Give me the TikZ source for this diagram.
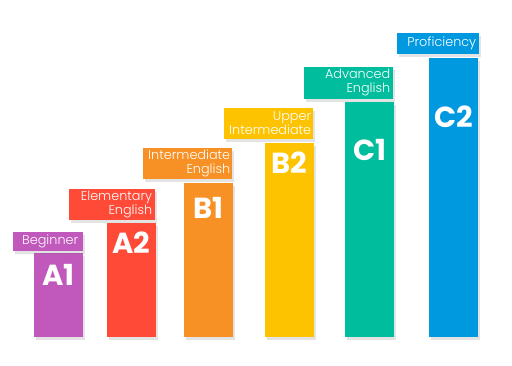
\documentclass[tikz,border=0pt]{standalone}
\usepackage{fontspec}
\setmainfont{Poppins}
\newfontfamily\lightf{Poppins Light}
\newfontfamily\boldf{Poppins Bold}
\usetikzlibrary{shadows}
\definecolor{cA1}{HTML}{C158BC}
\definecolor{cA2}{HTML}{FF4A38}
\definecolor{cB1}{HTML}{F79125}
\definecolor{cB2}{HTML}{FDC300}
\definecolor{cC1}{HTML}{00BD9D}
\definecolor{cC2}{HTML}{0099E0}
\tikzset{
  bar/.style={draw=none, inner sep=0pt, anchor=south west, minimum width=49pt,
    drop shadow={shadow xshift=2pt, shadow yshift=-3pt, opacity=0.18, fill=black!60}},
  lbox/.style={draw=none, inner sep=0pt, anchor=south west,
    drop shadow={shadow xshift=2pt, shadow yshift=-3pt, opacity=0.18, fill=black!60}},
  ltext/.style={text=white, align=right, anchor=east, inner sep=0pt,
    font=\lightf\fontsize{12.8}{14}\selectfont},
  big/.style={text=white, inner sep=0pt, font=\boldf\fontsize{29}{29}\selectfont}
}
\begin{document}
\begin{tikzpicture}[x=1pt,y=1pt]
\useasboundingbox (0,0) rectangle (512,366);
% bars (y = 366 - pixel y), bottom at 337 -> 29
\node[bar, fill=cA1, minimum height=84pt] (a1) at (34,29) {};
\node[bar, fill=cA2, minimum height=114pt] (a2) at (107,29) {};
\node[bar, fill=cB1, minimum height=154pt] (b1) at (184,29) {};
\node[bar, fill=cB2, minimum height=194pt] (b2) at (265,29) {};
\node[bar, fill=cC1, minimum height=235pt] (c1) at (345,29) {};
\node[bar, fill=cC2, minimum height=279pt] (c2) at (429,29) {};
% big letters
\node[big] (ta1) at (58.5,91) {A1};
\node[big] (ta2) at (131.5,123) {A2};
\node[big] (tb1) at (208.5,158) {B1};
\node[big] (tb2) at (289.5,203) {B2};
\node[big] (tc1) at (369.5,216) {C1};
\node[big] (tc2) at (453.5,249) {C2};
% label boxes
\node[lbox, fill=cA1, minimum width=70pt, minimum height=19pt] (la1) at (13,115) {};
\node[lbox, fill=cA2, minimum width=86pt, minimum height=31pt] (la2) at (69,146) {};
\node[lbox, fill=cB1, minimum width=89pt, minimum height=31pt] (lb1) at (143,187) {};
\node[lbox, fill=cB2, minimum width=89pt, minimum height=31pt] (lb2) at (224,227) {};
\node[lbox, fill=cC1, minimum width=89pt, minimum height=32pt] (lc1) at (304,267) {};
\node[lbox, fill=cC2, minimum width=82pt, minimum height=21pt] (lc2) at (397,312) {};
% label texts
\node[ltext] (xa1) at ([xshift=-5pt]la1.east) {Beginner};
\node[ltext] (xa2) at ([xshift=-3pt]la2.east) {Elementary\\English};
\node[ltext] (xb1) at ([xshift=-2pt]lb1.east) {Intermediate\\English};
\node[ltext] (xb2) at ([xshift=-2pt]lb2.east) {Upper\\Intermediate};
\node[ltext] (xc1) at ([xshift=-3pt]lc1.east) {Advanced\\English};
\node[ltext] (xc2) at ([xshift=-3pt]lc2.east) {Proficiency};
\end{tikzpicture}
\end{document}
